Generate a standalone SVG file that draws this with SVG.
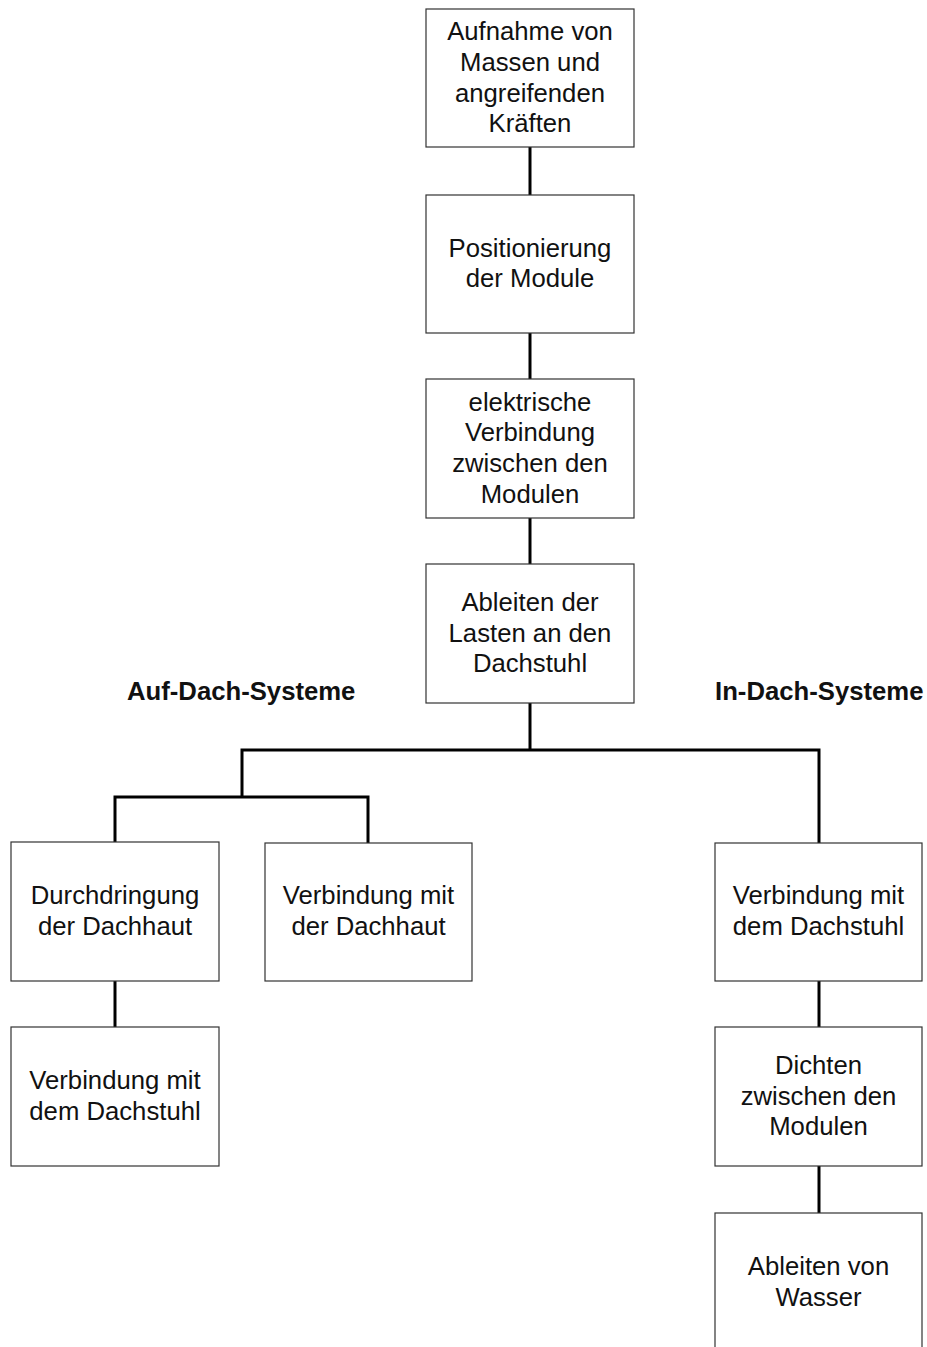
<svg xmlns="http://www.w3.org/2000/svg" width="927" height="1347" viewBox="0 0 927 1347">
<style>
.box{fill:#fff;stroke:#333;stroke-width:1.2}
.t{font-family:"Liberation Sans",Arial,sans-serif;font-size:25.7px;fill:#111;text-anchor:middle}
.h{font-family:"Liberation Sans",Arial,sans-serif;font-size:25.7px;font-weight:bold;fill:#111}
.c{fill:none;stroke:#000;stroke-width:3;stroke-linejoin:miter;stroke-linecap:butt}
</style>
<rect width="927" height="1347" fill="#fff"/>
<g id="connectors">
<line class="c" x1="530" y1="147" x2="530" y2="195"/>
<line class="c" x1="530" y1="333" x2="530" y2="379"/>
<line class="c" x1="530" y1="518" x2="530" y2="564"/>
<line class="c" x1="530" y1="703" x2="530" y2="750"/>
<polyline class="c" points="242,797 242,750 819,750 819,843"/>
<polyline class="c" points="115,842 115,797 368,797 368,843"/>
<line class="c" x1="115" y1="981" x2="115" y2="1027"/>
<line class="c" x1="819" y1="981" x2="819" y2="1027"/>
<line class="c" x1="819" y1="1166" x2="819" y2="1213"/>
</g>
<g id="n1"><rect class="box" x="426" y="9" width="208" height="138"/>
<text class="t"><tspan x="530" y="40">Aufnahme von</tspan><tspan x="530" y="71">Massen und</tspan><tspan x="530" y="101.5">angreifenden</tspan><tspan x="530" y="132">Kräften</tspan></text></g>
<g id="n2"><rect class="box" x="426" y="195" width="208" height="138"/>
<text class="t"><tspan x="530" y="256.5">Positionierung</tspan><tspan x="530" y="287">der Module</tspan></text></g>
<g id="n3"><rect class="box" x="426" y="379" width="208" height="139"/>
<text class="t"><tspan x="530" y="410.5">elektrische</tspan><tspan x="530" y="441">Verbindung</tspan><tspan x="530" y="472">zwischen den</tspan><tspan x="530" y="502.5">Modulen</tspan></text></g>
<g id="n4"><rect class="box" x="426" y="564" width="208" height="139"/>
<text class="t"><tspan x="530" y="610.5">Ableiten der</tspan><tspan x="530" y="641.5">Lasten an den</tspan><tspan x="530" y="672">Dachstuhl</tspan></text></g>
<g id="label-auf"><text class="h" x="127" y="700">Auf-Dach-Systeme</text></g>
<g id="label-in"><text class="h" x="715" y="700">In-Dach-Systeme</text></g>
<g id="n5"><rect class="box" x="11" y="842" width="208" height="139"/>
<text class="t"><tspan x="115" y="904">Durchdringung</tspan><tspan x="115" y="935">der Dachhaut</tspan></text></g>
<g id="n6"><rect class="box" x="265" y="843" width="207" height="138"/>
<text class="t"><tspan x="368.5" y="904">Verbindung mit</tspan><tspan x="368.5" y="935">der Dachhaut</tspan></text></g>
<g id="n7"><rect class="box" x="715" y="843" width="207" height="138"/>
<text class="t"><tspan x="818.5" y="904">Verbindung mit</tspan><tspan x="818.5" y="935">dem Dachstuhl</tspan></text></g>
<g id="n8"><rect class="box" x="11" y="1027" width="208" height="139"/>
<text class="t"><tspan x="115" y="1089">Verbindung mit</tspan><tspan x="115" y="1120">dem Dachstuhl</tspan></text></g>
<g id="n9"><rect class="box" x="715" y="1027" width="207" height="139"/>
<text class="t"><tspan x="818.5" y="1074">Dichten</tspan><tspan x="818.5" y="1104.5">zwischen den</tspan><tspan x="818.5" y="1135">Modulen</tspan></text></g>
<g id="n10"><rect class="box" x="715" y="1213" width="207" height="139"/>
<text class="t"><tspan x="818.5" y="1275">Ableiten von</tspan><tspan x="818.5" y="1306">Wasser</tspan></text></g>
</svg>
